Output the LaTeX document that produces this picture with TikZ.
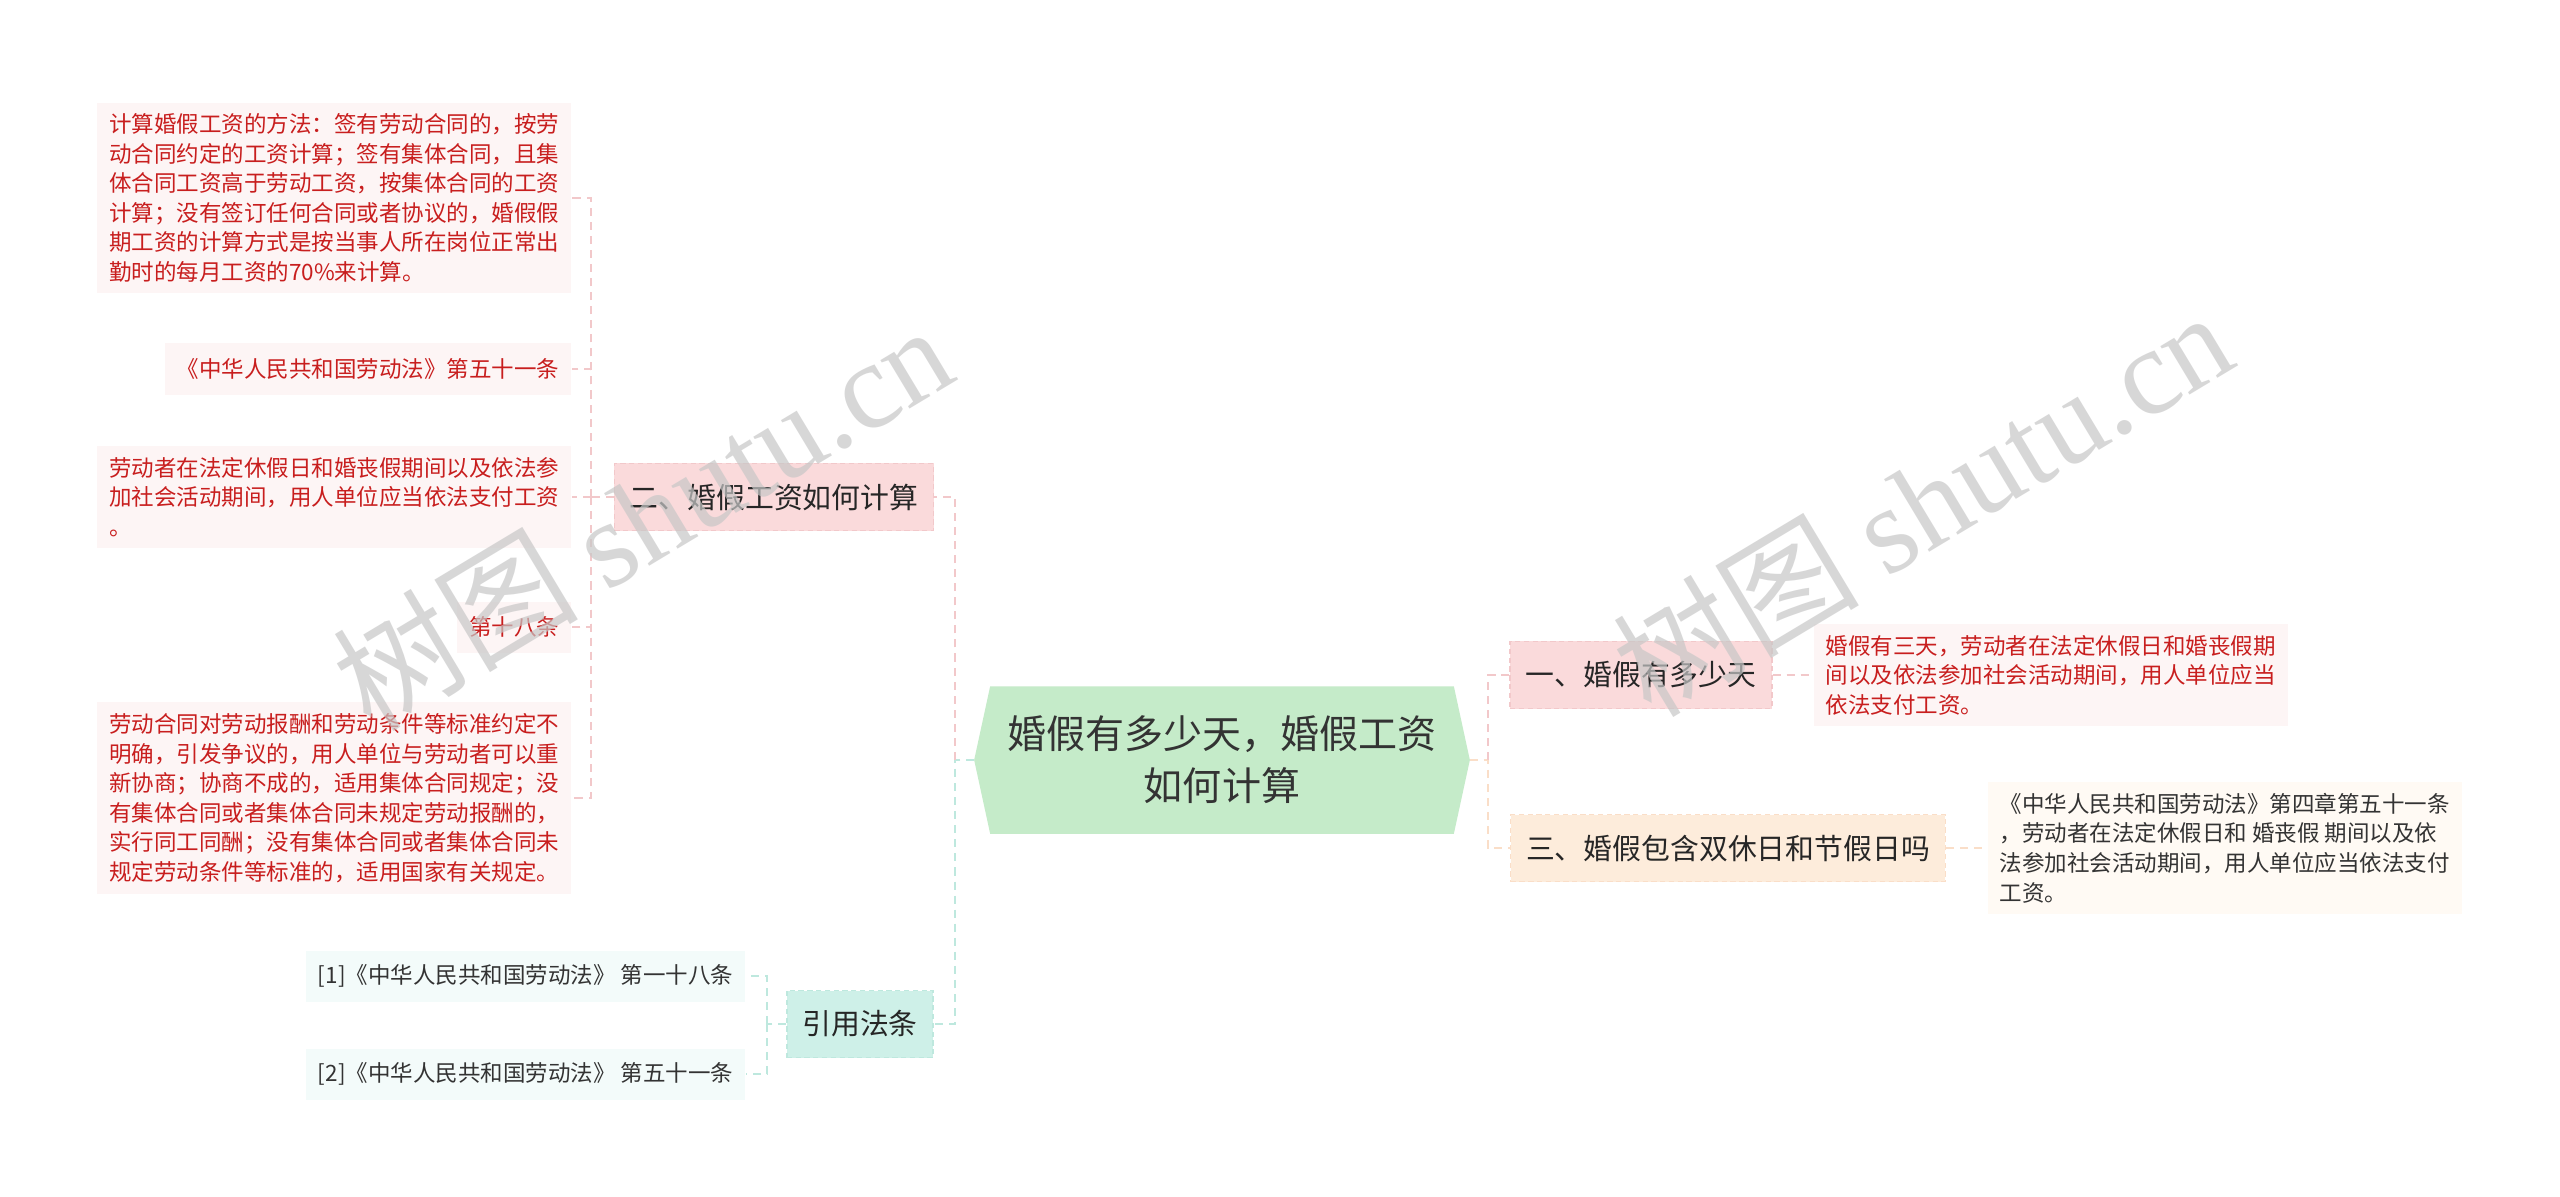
\documentclass[tikz,border=0pt]{standalone}
\usepackage{fontspec}
\setmainfont{Noto Sans CJK SC}
\newfontfamily\wmserif{Liberation Serif}
\usetikzlibrary{positioning, backgrounds}
\definecolor{rootcol}{RGB}{197,235,201}
\definecolor{pinkcol}{RGB}{250,218,219}
\definecolor{peachcol}{RGB}{253,236,219}
\definecolor{mintcol}{RGB}{206,240,232}
\definecolor{leafpink}{RGB}{253,245,245}
\definecolor{leafpeach}{RGB}{255,250,244}
\definecolor{leafmint}{RGB}{243,251,250}
\definecolor{redtxt}{RGB}{200,30,30}
\definecolor{graytxt}{RGB}{51,51,51}
\definecolor{lnkpink}{RGB}{242,200,202}
\definecolor{lnkpeach}{RGB}{250,222,200}
\definecolor{lnkmint}{RGB}{190,232,222}

\begin{document}
\begin{tikzpicture}[
  x=0.01cm, y=-0.01cm,
  rootb/.style   = {align=center, minimum width=49.4mm, minimum height=14.6mm,
                    inner sep=0pt, text=graytxt,
                    font=\fontsize{11.1pt}{14.8pt}\selectfont},
  branchb/.style = {dashed, dash pattern=on 1.5pt off 1pt, line width=0.4pt,
                    align=center, minimum height=6.7mm, inner xsep=1.55mm,
                    inner ysep=0pt, text=black!85,
                    font=\fontsize{8.2pt}{10pt}\selectfont},
  leafb/.style   = {align=left, inner xsep=1.2mm, inner ysep=1.1mm,
                    minimum height=5.1mm,
                    font=\fontsize{6.4pt}{8.4pt}\selectfont},
  leafred/.style = {leafb, fill=leafpink, text=redtxt},
  leafgry/.style = {leafb, fill=leafpeach, text=graytxt},
  leafcit/.style = {leafb, fill=leafmint, text=graytxt},
  lnk/.style     = {line width=0.6pt, dash pattern=on 2.3pt off 1.7pt},
  lnkP/.style    = {lnk, lnkpink},
  lnkPe/.style   = {lnk, lnkpeach},
  lnkM/.style    = {lnk, lnkmint},
  wmark/.style   = {text=black!22, text opacity=0.7, rotate=31,
                    font=\fontsize{35pt}{35pt}\selectfont},
]
\useasboundingbox (0,0) rectangle (2560,1196);

% ---------- root ----------
\node[rootb] (root) at (1222,760) {婚假有多少天，婚假工资\\如何计算};

% ---------- right branches ----------
\node[branchb, fill=pinkcol,  draw=lnkpink]  (b1) at (1641,675) {一、婚假有多少天};
\node[branchb, fill=peachcol, draw=lnkpeach] (b3) at (1728,848) {三、婚假包含双休日和节假日吗};

\node[leafred, anchor=west] (r1) at (1813,675)
  {婚假有三天，劳动者在法定休假日和婚丧假期\\间以及依法参加社会活动期间，用人单位应当\\依法支付工资。};
\node[leafgry, anchor=west] (r3) at (1987,848)
  {《中华人民共和国劳动法》第四章第五十一条\\，劳动者在法定休假日和 婚丧假 期间以及依\\法参加社会活动期间，用人单位应当依法支付\\工资。};

% ---------- left branches ----------
\node[branchb, fill=pinkcol, draw=lnkpink] (b2)   at (774,497)  {二、婚假工资如何计算};
\node[branchb, fill=mintcol, draw=lnkmint] (cite) at (860,1024) {引用法条};

\node[leafred, anchor=east] (la) at (572,198)
  {计算婚假工资的方法：签有劳动合同的，按劳\\动合同约定的工资计算；签有集体合同，且集\\体合同工资高于劳动工资，按集体合同的工资\\计算；没有签订任何合同或者协议的，婚假假\\期工资的计算方式是按当事人所在岗位正常出\\勤时的每月工资的70\%来计算。};
\node[leafred, anchor=east] (lb) at (572,369) {《中华人民共和国劳动法》第五十一条};
\node[leafred, anchor=east] (lc) at (572,497)
  {劳动者在法定休假日和婚丧假期间以及依法参\\加社会活动期间，用人单位应当依法支付工资\\。};
\node[leafred, anchor=east] (ld) at (572,627) {第十八条};
\node[leafred, anchor=east] (le) at (572,798)
  {劳动合同对劳动报酬和劳动条件等标准约定不\\明确，引发争议的，用人单位与劳动者可以重\\新协商；协商不成的，适用集体合同规定；没\\有集体合同或者集体合同未规定劳动报酬的，\\实行同工同酬；没有集体合同或者集体合同未\\规定劳动条件等标准的，适用国家有关规定。};

\node[leafcit, anchor=east] (cf) at (746,976)  {[1]《中华人民共和国劳动法》 第一十八条};
\node[leafcit, anchor=east] (cg) at (746,1074) {[2]《中华人民共和国劳动法》 第五十一条};

% ---------- connectors ----------
\coordinate (ljn)  at (955,760);
\coordinate (rjn)  at (1488,760);
\coordinate (b2jn) at (591,497);
\coordinate (cjn)  at (767,1024);

\draw[lnkM]  (root.west) -- (ljn) |- (cite.east);
\draw[lnkP]  (ljn) |- (b2.east);
\draw[lnkPe] (root.east) -- (rjn) |- (b3.west);
\draw[lnkP]  (rjn) |- (b1.west);

\draw[lnkP]  (b1.east) -- (r1.west);
\draw[lnkPe] (b3.east) -- (r3.west);

\draw[lnkP] (b2.west) -- (b2jn);
\foreach \n in {la,lb,lc,ld,le}
  \draw[lnkP] (b2jn) |- (\n.east);

\draw[lnkM] (cite.west) -- (cjn);
\foreach \n in {cf,cg}
  \draw[lnkM] (cjn) |- (\n.east);

% ---------- white page + hexagon root ----------
\begin{scope}[on background layer]
  \fill[white] (0,0) rectangle (2560,1196);
  \fill[rootcol] ([xshift=0.16cm]root.north west) -- ([xshift=-0.16cm]root.north east)
    -- (root.east) -- ([xshift=-0.16cm]root.south east)
    -- ([xshift=0.16cm]root.south west) -- (root.west) -- cycle;
\end{scope}

% ---------- watermark ----------
\node[wmark] (wm1) at (642,516)  {树图 {\wmserif shutu.cn}};
\node[wmark] (wm2) at (1922,502) {树图 {\wmserif shutu.cn}};

\end{tikzpicture}
\end{document}
